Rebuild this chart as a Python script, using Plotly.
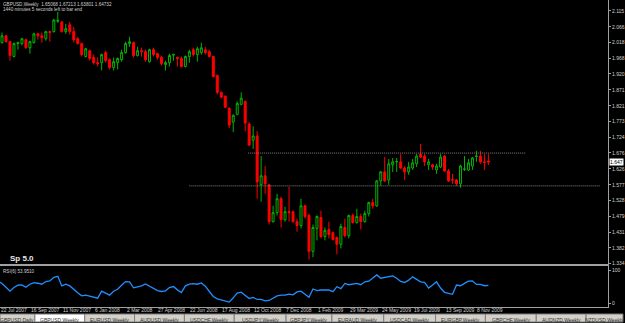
import pandas as pd
import plotly.graph_objects as go

# ---------------- data ----------------
first_week = "2007-07-22"

opens = [2.051, 2.017, 2.038, 2.020, 1.974, 2.014, 2.014, 2.026, 2.001, 2.017,
         2.044, 2.038, 2.029, 2.051, 2.051, 2.083, 2.081, 2.051, 2.072, 2.051,
         2.029, 2.014, 1.974, 1.992, 1.971, 1.955, 1.955, 1.986, 1.964, 1.940,
         1.955, 1.964, 1.986, 2.014, 2.017, 1.977, 1.992, 1.989, 1.958, 1.995,
         1.983, 1.971, 1.949, 1.955, 1.978, 1.971, 1.968, 1.943, 1.974, 1.995,
         1.980, 1.986, 1.995, 1.989, 1.974, 1.915, 1.863, 1.851, 1.814, 1.771,
         1.795, 1.826, 1.835, 1.765, 1.715, 1.728, 1.577, 1.605, 1.577, 1.463,
         1.491, 1.534, 1.469, 1.494, 1.494, 1.463, 1.451, 1.512, 1.482, 1.371,
         1.442, 1.476, 1.417, 1.439, 1.429, 1.414, 1.393, 1.445, 1.420, 1.482,
         1.460, 1.479, 1.463, 1.488, 1.522, 1.512, 1.589, 1.617, 1.592, 1.639,
         1.648, 1.648, 1.629, 1.617, 1.629, 1.642, 1.672, 1.666, 1.639, 1.639,
         1.623, 1.632, 1.666, 1.620, 1.593, 1.592, 1.580, 1.625, 1.623, 1.635,
         1.665, 1.666, 1.648, 1.65068]

highs = [2.054, 2.048, 2.041, 2.023, 2.017, 2.020, 2.032, 2.029, 2.023, 2.048,
         2.048, 2.048, 2.054, 2.054, 2.091, 2.112, 2.084, 2.075, 2.081, 2.066,
         2.035, 2.017, 2.001, 1.995, 1.980, 1.971, 1.983, 1.992, 1.968, 1.971,
         1.971, 1.995, 2.020, 2.035, 2.020, 2.004, 2.001, 1.995, 1.998, 2.001,
         1.986, 1.977, 1.961, 1.983, 1.983, 1.974, 1.974, 1.977, 1.995, 2.001,
         2.004, 2.017, 2.004, 1.995, 1.976, 1.918, 1.866, 1.854, 1.817, 1.795,
         1.835, 1.863, 1.838, 1.771, 1.758, 1.743, 1.666, 1.635, 1.580, 1.512,
         1.549, 1.540, 1.509, 1.571, 1.497, 1.472, 1.534, 1.515, 1.488, 1.454,
         1.482, 1.497, 1.445, 1.463, 1.432, 1.417, 1.457, 1.472, 1.485, 1.488,
         1.503, 1.488, 1.497, 1.525, 1.534, 1.592, 1.620, 1.663, 1.657, 1.660,
         1.660, 1.672, 1.635, 1.648, 1.657, 1.672, 1.703, 1.672, 1.657, 1.642,
         1.642, 1.672, 1.669, 1.626, 1.611, 1.595, 1.639, 1.666, 1.657, 1.663,
         1.682, 1.682, 1.672, 1.67213]

lows = [2.014, 2.014, 2.017, 1.961, 1.971, 1.995, 2.008, 1.998, 1.983, 2.014,
        2.026, 2.017, 2.023, 2.020, 2.048, 2.078, 2.048, 2.044, 2.041, 2.017,
        2.011, 1.974, 1.971, 1.961, 1.949, 1.943, 1.931, 1.955, 1.934, 1.931,
        1.934, 1.958, 1.983, 2.004, 1.971, 1.974, 1.974, 1.958, 1.955, 1.974,
        1.964, 1.946, 1.931, 1.943, 1.961, 1.943, 1.940, 1.940, 1.955, 1.974,
        1.958, 1.980, 1.980, 1.971, 1.909, 1.857, 1.845, 1.814, 1.752, 1.740,
        1.792, 1.823, 1.743, 1.697, 1.688, 1.534, 1.525, 1.549, 1.454, 1.460,
        1.482, 1.445, 1.463, 1.463, 1.460, 1.432, 1.442, 1.472, 1.346, 1.353,
        1.405, 1.411, 1.405, 1.411, 1.405, 1.362, 1.380, 1.414, 1.411, 1.457,
        1.457, 1.439, 1.460, 1.479, 1.503, 1.509, 1.574, 1.586, 1.577, 1.617,
        1.617, 1.626, 1.592, 1.608, 1.623, 1.632, 1.660, 1.635, 1.623, 1.623,
        1.611, 1.629, 1.617, 1.586, 1.580, 1.574, 1.568, 1.620, 1.620, 1.623,
        1.648, 1.642, 1.623, 1.63801]

closes = [2.020, 2.038, 2.020, 1.977, 2.014, 2.017, 2.029, 2.001, 2.020, 2.044,
          2.038, 2.032, 2.051, 2.048, 2.087, 2.086, 2.051, 2.060, 2.051, 2.026,
          2.014, 1.980, 1.998, 1.968, 1.955, 1.952, 1.980, 1.961, 1.940, 1.958,
          1.968, 1.986, 2.014, 2.020, 1.977, 1.992, 1.989, 1.964, 1.995, 1.980,
          1.971, 1.952, 1.955, 1.977, 1.980, 1.968, 1.943, 1.974, 1.989, 1.980,
          1.998, 2.001, 1.986, 1.974, 1.912, 1.863, 1.848, 1.817, 1.762, 1.792,
          1.829, 1.845, 1.768, 1.700, 1.728, 1.586, 1.605, 1.580, 1.463, 1.491,
          1.534, 1.469, 1.494, 1.491, 1.463, 1.451, 1.512, 1.479, 1.371, 1.445,
          1.479, 1.417, 1.436, 1.423, 1.408, 1.393, 1.448, 1.420, 1.482, 1.460,
          1.479, 1.463, 1.488, 1.522, 1.512, 1.589, 1.617, 1.589, 1.642, 1.648,
          1.649, 1.629, 1.617, 1.632, 1.645, 1.666, 1.663, 1.648, 1.648, 1.632,
          1.635, 1.663, 1.620, 1.589, 1.592, 1.580, 1.635, 1.626, 1.645, 1.660,
          1.666, 1.648, 1.646, 1.64732]

rsi = [67.7, 59.6, 48.5, 36.4, 47.5, 54.5, 55.5, 48.5, 57.6, 62.6,
       60.6, 57.6, 65.7, 67.7, 78.8, 81.8, 52.5, 57.6, 52.5, 40.4,
       31.3, 22.2, 24.2, 21.2, 17.2, 15.2, 36.4, 29.3, 24.2, 36.4,
       42.4, 54.5, 65.7, 64.6, 46.5, 49.5, 52.5, 58.6, 52.5, 44.4,
       38.4, 35.4, 37.4, 47.5, 50.5, 40.4, 32.3, 52.5, 57.6, 59.6,
       57.6, 61.6, 51.5, 35.4, 20.2, 13.1, 9.1, 6.1, 3.0, 16.2,
       30.3, 33.3, 24.2, 14.1, 17.2, 11.1, 11.1, 7.1, 8.1, 16.2,
       22.2, 24.2, 24.2, 27.3, 25.3, 34.3, 36.4, 27.3, 18.0, 43.0,
       38.0, 40.0, 40.0, 40.0, 35.0, 50.0, 44.0, 60.0, 56.0, 59.0,
       60.0, 56.0, 65.0, 67.0, 78.0, 86.0, 76.0, 79.0, 82.0, 83.0,
       76.0, 66.0, 63.0, 70.0, 80.0, 72.0, 65.0, 63.0, 46.0, 55.0,
       65.0, 46.0, 33.0, 30.0, 27.0, 55.0, 53.0, 60.0, 67.0, 68.0,
       57.0, 57.0, 53.0, 53.9510]

price_ticks = [2.115, 2.066, 2.018, 1.968, 1.920, 1.871, 1.821, 1.773, 1.724,
               1.676, 1.626, 1.577, 1.528, 1.479, 1.431, 1.382, 1.334]
rsi_ticks = [0, 100]

# horizontal level lines: price, first bar index, last bar index
level_prices = [1.6752, 1.5738]
level_from = [62.75, 48.0]
level_to = [132.25, 151.0]

header_line1 = "GBPUSD,Weekly  1.65068 1.67213 1.63801 1.64732"
header_line2 = "1440 minutes 5 seconds left to bar end"
indicator_label = "RSI(6) 53.9510"
sp_label = "Sp 5.0"

tab_names = ["GBPUSD,Daily", "GBPUSD,Weekly", "EURUSD,Weekly", "AUDUSD,Weekly",
             "USDCHF,Weekly", "USDJPY,Weekly", "GBPJPY,Weekly", "EURAUD,Weekly",
             "USDCAD,Weekly", "EURGBP,Weekly", "GBPCHF,Weekly", "AUDNZD,Weekly",
             "NZDUSD,Weekly"]
tab_edges = [0, 35, 85, 135, 185, 235, 287, 333, 385, 437, 487, 538, 588, 625]
active_tab = 1

# ---------------- layout helpers ----------------
W, H = 625, 323
PLOT_W = 610
wk = pd.Timedelta(days=7)
dates = pd.date_range(first_week, periods=len(closes), freq="7D")
t0 = dates[0]


def py(p):
    return 1 - p / H


def pxp(p):
    return p / PLOT_W


x_range = [t0 + 0.5 * wk, t0 + 153 * wk]

GREEN = "#00b400"
RED = "#ff0000"
GRAY = "#a0a0a0"
TXT = "#d0d0d0"
FONT = "Liberation Sans"

fig = go.Figure()
fig.add_trace(go.Candlestick(
    x=dates, open=opens, high=highs, low=lows, close=closes,
    increasing=dict(line=dict(color=GREEN, width=1), fillcolor="#000000"),
    decreasing=dict(line=dict(color=RED, width=1), fillcolor=RED),
    xaxis="x", yaxis="y", showlegend=False, hoverinfo="skip"))

fig.add_trace(go.Scatter(
    x=dates, y=rsi, mode="lines", line=dict(color="#1e90ff", width=1.3),
    xaxis="x2", yaxis="y2", showlegend=False, hoverinfo="skip"))

shapes = []
for p, a, b in zip(level_prices, level_from, level_to):
    shapes.append(dict(type="line", xref="x", yref="y",
                       x0=t0 + a * wk, x1=t0 + b * wk, y0=p, y1=p,
                       line=dict(color="#808080", width=1, dash="1px,1px")))

annotations = []
annotations.append(dict(text=header_line1, xref="paper", yref="paper",
                        x=pxp(2), y=py(1), xanchor="left", yanchor="top",
                        showarrow=False, borderpad=0,
                        font=dict(family=FONT, size=4.6, color=TXT)))
annotations.append(dict(text=header_line2, xref="paper", yref="paper",
                        x=pxp(2), y=py(6.5), xanchor="left", yanchor="top",
                        showarrow=False, borderpad=0,
                        font=dict(family=FONT, size=4.6, color=TXT)))
annotations.append(dict(text="<b>" + sp_label + "</b>", xref="paper", yref="paper",
                        x=pxp(9), y=py(260), xanchor="left", yanchor="middle",
                        showarrow=False, borderpad=0,
                        font=dict(family=FONT, size=8, color="#e8e8e8")))
annotations.append(dict(text=indicator_label, xref="paper", yref="paper",
                        x=pxp(2), y=py(270), xanchor="left", yanchor="top",
                        showarrow=False, borderpad=0,
                        font=dict(family=FONT, size=4.6, color=TXT)))
# current price marker on the price scale
annotations.append(dict(text="%.3f" % closes[-1], xref="paper", yref="y",
                        x=pxp(611), y=closes[-1], xanchor="left", yanchor="middle",
                        showarrow=False, borderpad=0, bgcolor="#ffffff",
                        font=dict(family=FONT, size=5, color="#000000")))
# date labels, left aligned at their bar (first one clamped to the visible start)
for d in dates[::8]:
    xpos = max(d, x_range[0])
    annotations.append(dict(text=f"{d.day} {d.strftime('%b %Y')}", xref="x2", yref="paper",
                            x=xpos, y=py(312), xanchor="left", yanchor="middle",
                            showarrow=False, borderpad=0,
                            font=dict(family=FONT, size=5, color=TXT)))

# symbol tabs at the bottom
for i, name in enumerate(tab_names):
    a, b = tab_edges[i], tab_edges[i + 1]
    shapes.append(dict(type="rect", xref="paper", yref="paper",
                       x0=pxp(a), x1=pxp(b), y0=py(324), y1=py(316),
                       fillcolor="#ffffff" if i == active_tab else "#d4d0c8",
                       line=dict(color="#808080", width=1), layer="above"))
    annotations.append(dict(text=name, xref="paper", yref="paper",
                            x=pxp((a + b) / 2), y=py(317.5), xanchor="center", yanchor="top",
                            showarrow=False, borderpad=0,
                            font=dict(family=FONT, size=5, color="#303030")))

axis_common = dict(showgrid=False, zeroline=False, showline=True, linecolor=GRAY)

fig.update_layout(
    width=W, height=H,
    margin=dict(l=0, r=W - PLOT_W, t=0, b=0),
    paper_bgcolor="#000000", plot_bgcolor="#000000",
    showlegend=False,
    xaxis=dict(domain=[0, 1], range=x_range, type="date", anchor="y",
               showticklabels=False, ticks="", linewidth=2,
               rangeslider=dict(visible=False), **axis_common),
    yaxis=dict(domain=[py(266), 1], range=[1.3309, 2.1488], side="right", anchor="x",
               tickvals=price_ticks, ticktext=["%.3f" % v for v in price_ticks],
               ticks="outside", ticklen=2, tickcolor=GRAY, linewidth=1,
               tickfont=dict(family=FONT, size=5, color=TXT), **axis_common),
    xaxis2=dict(domain=[0, 1], range=x_range, type="date", anchor="y2",
                showticklabels=False, ticks="", linewidth=1, **axis_common),
    yaxis2=dict(domain=[py(309), py(268)], range=[-12.1, 112.1], side="right", anchor="x2",
                tickvals=rsi_ticks, ticktext=[str(v) for v in rsi_ticks],
                ticks="outside", ticklen=2, tickcolor=GRAY, linewidth=1,
                tickfont=dict(family=FONT, size=5, color=TXT), **axis_common),
    shapes=shapes,
    annotations=annotations,
)

fig.write_html("out.html")
